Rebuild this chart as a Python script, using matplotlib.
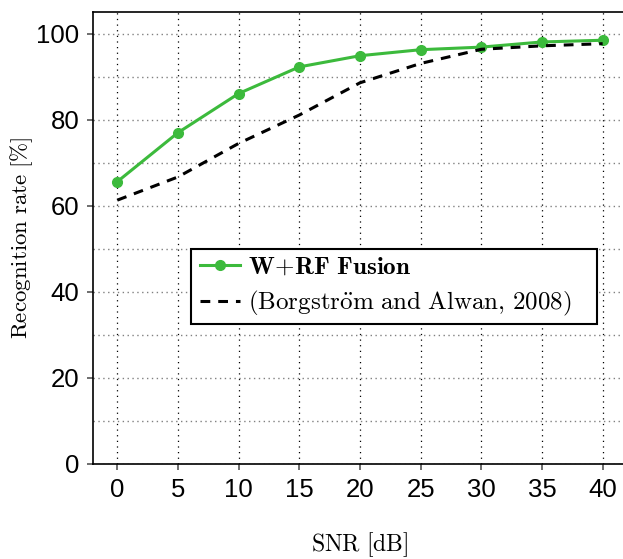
import matplotlib
matplotlib.use('Agg')
from matplotlib import pyplot as plt
from matplotlib.patches import Rectangle
from matplotlib.ticker import MultipleLocator

plt.rcParams['mathtext.fontset'] = 'cm'
plt.rcParams['font.family'] = ['Liberation Sans', 'DejaVu Sans']

snr = [0, 5, 10, 15, 20, 25, 30, 35, 40]
fusion = [65.6, 77.0, 86.1, 92.3, 94.9, 96.3, 96.9, 98.1, 98.5]
borgstrom = [61.3, 66.7, 74.5, 81.1, 88.6, 93.1, 96.4, 97.2, 97.7]

green = '#3cba3c'

fig = plt.figure(figsize=(6.23, 5.59), dpi=100)
ax = fig.add_axes([0.1493, 0.1705, 0.857, 0.8075])

ax.plot(snr, fusion, color=green, lw=2.2, marker='o', ms=7,
        label=r'$\mathbf{W\!+\!RF\ Fusion}$', zorder=3)
ax.plot(snr, borgstrom, color='black', lw=2.2, ls=(0, (3.2, 2.6)),
        label=r'$\mathrm{(Borgstr\ddot{o}m\ and\ Alwan{,}\ 2008)}$', zorder=3)

ax.set_xlim(-2, 42)
ax.set_ylim(0, 105)
ax.set_xticks(snr)
ax.set_yticks([0, 20, 40, 60, 80, 100])
ax.yaxis.set_minor_locator(MultipleLocator(10))
ax.tick_params(axis='both', which='major', labelsize=18.5, direction='out',
               length=4, width=1.2, color='#555555', pad=6)
ax.tick_params(axis='y', which='minor', length=0)

ax.grid(axis='x', which='major', color='black', ls=(0, (1, 3.5)), lw=0.9)
ax.grid(axis='y', which='both', color='gray', ls=(0, (1, 2.5)), lw=1.0)

for s in ['left', 'bottom', 'top']:
    ax.spines[s].set_linewidth(1.2)
ax.spines['right'].set_visible(False)

ax.set_xlabel(r'$\mathrm{SNR\ [dB]}$', fontsize=17, labelpad=21)
ax.set_ylabel(r'$\mathrm{Recognition\ rate\ [\%]}$', fontsize=16.5, labelpad=1)

# legend frame drawn by hand so it can be wider than the text
box = Rectangle((0.1835, 0.3095), 0.7605, 0.1661, transform=ax.transAxes,
                facecolor='white', edgecolor='black', lw=1.5, zorder=4)
ax.add_patch(box)
leg = ax.legend(loc='center left', bbox_to_anchor=(0.2004, 0.393),
                borderaxespad=0, fontsize=18, frameon=False, handlelength=1.6,
                handletextpad=0.3, borderpad=0, labelspacing=0.42)
leg.set_zorder(5)

fig.savefig('out.png', dpi=100)
